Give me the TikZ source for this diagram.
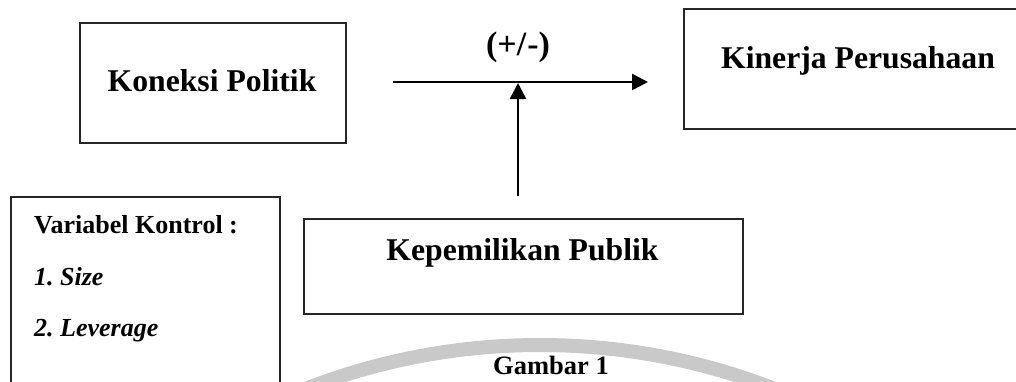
\documentclass[tikz,border=0pt]{standalone}
\usepackage{fontspec}
\setmainfont{Liberation Serif}
\usetikzlibrary{arrows.meta}
\frenchspacing

\tikzset{
  box/.style={draw=black!85, line width=1.6pt, rectangle, inner sep=0pt, anchor=north west},
  title/.style={font=\fontsize{31.7}{38}\selectfont\bfseries, inner sep=0pt, anchor=base},
  small/.style={font=\fontsize{26}{31}\selectfont\bfseries, inner sep=0pt, anchor=base west},
  smallit/.style={font=\fontsize{26}{31}\selectfont\bfseries\itshape, inner sep=0pt, anchor=base west},
  link/.style={line width=2.6pt, -{Triangle[length=16pt,width=16pt]}},
  watermark/.style={draw=black!21, line width=14pt}
}

\begin{document}
\begin{tikzpicture}[x=1pt, y=-1pt]
  \useasboundingbox (0,0) rectangle (1016,381);
  \clip (0,0) rectangle (1016,381);
  \fill[white] (0,0) rectangle (1016,381);

  % faint arc behind the caption
  \coordinate (arcc) at (540,991);
  \draw[watermark] (arcc) circle[radius=646pt];

  % main boxes
  \node[box, minimum width=266pt, minimum height=120pt] (kp) at (79,22) {};
  \node[title] (kptext) at (212,91) {Koneksi Politik};

  \node[box, minimum width=360pt, minimum height=120pt] (kin) at (683,8) {};
  \node[title] (kintext) at (858,68) {Kinerja Perusahaan};

  \node[box, minimum width=439pt, minimum height=95pt] (pub) at (303,218) {};
  \node[title] (pubtext) at (522.5,260) {Kepemilikan Publik};

  \node[box, minimum width=269pt, minimum height=210pt] (ctrl) at (10,196) {};
  \node[small] (ctrlhead) at (34,233) {Variabel Kontrol :};
  \node[smallit] (ctrl1) at (34,285) {1. Size};
  \node[smallit] (ctrl2) at (34,336) {2. Leverage};

  % connectors
  \coordinate (hstart) at (393,82);
  \coordinate (hend) at (648,82);
  \coordinate (hmid) at (518,83);
  \coordinate (vstart) at (518,196);
  \draw[link] (hstart) -- (hend);
  \draw[link] (vstart) -- (hmid);

  \node[font=\fontsize{34}{40}\selectfont\bfseries, inner sep=0pt, anchor=base] (sign) at (518,55) {(+/\kern1pt-)};

  \node[font=\fontsize{26.5}{31}\selectfont\bfseries, inner sep=0pt, anchor=base] (cap) at (551,374) {Gambar 1};
\end{tikzpicture}
\end{document}
